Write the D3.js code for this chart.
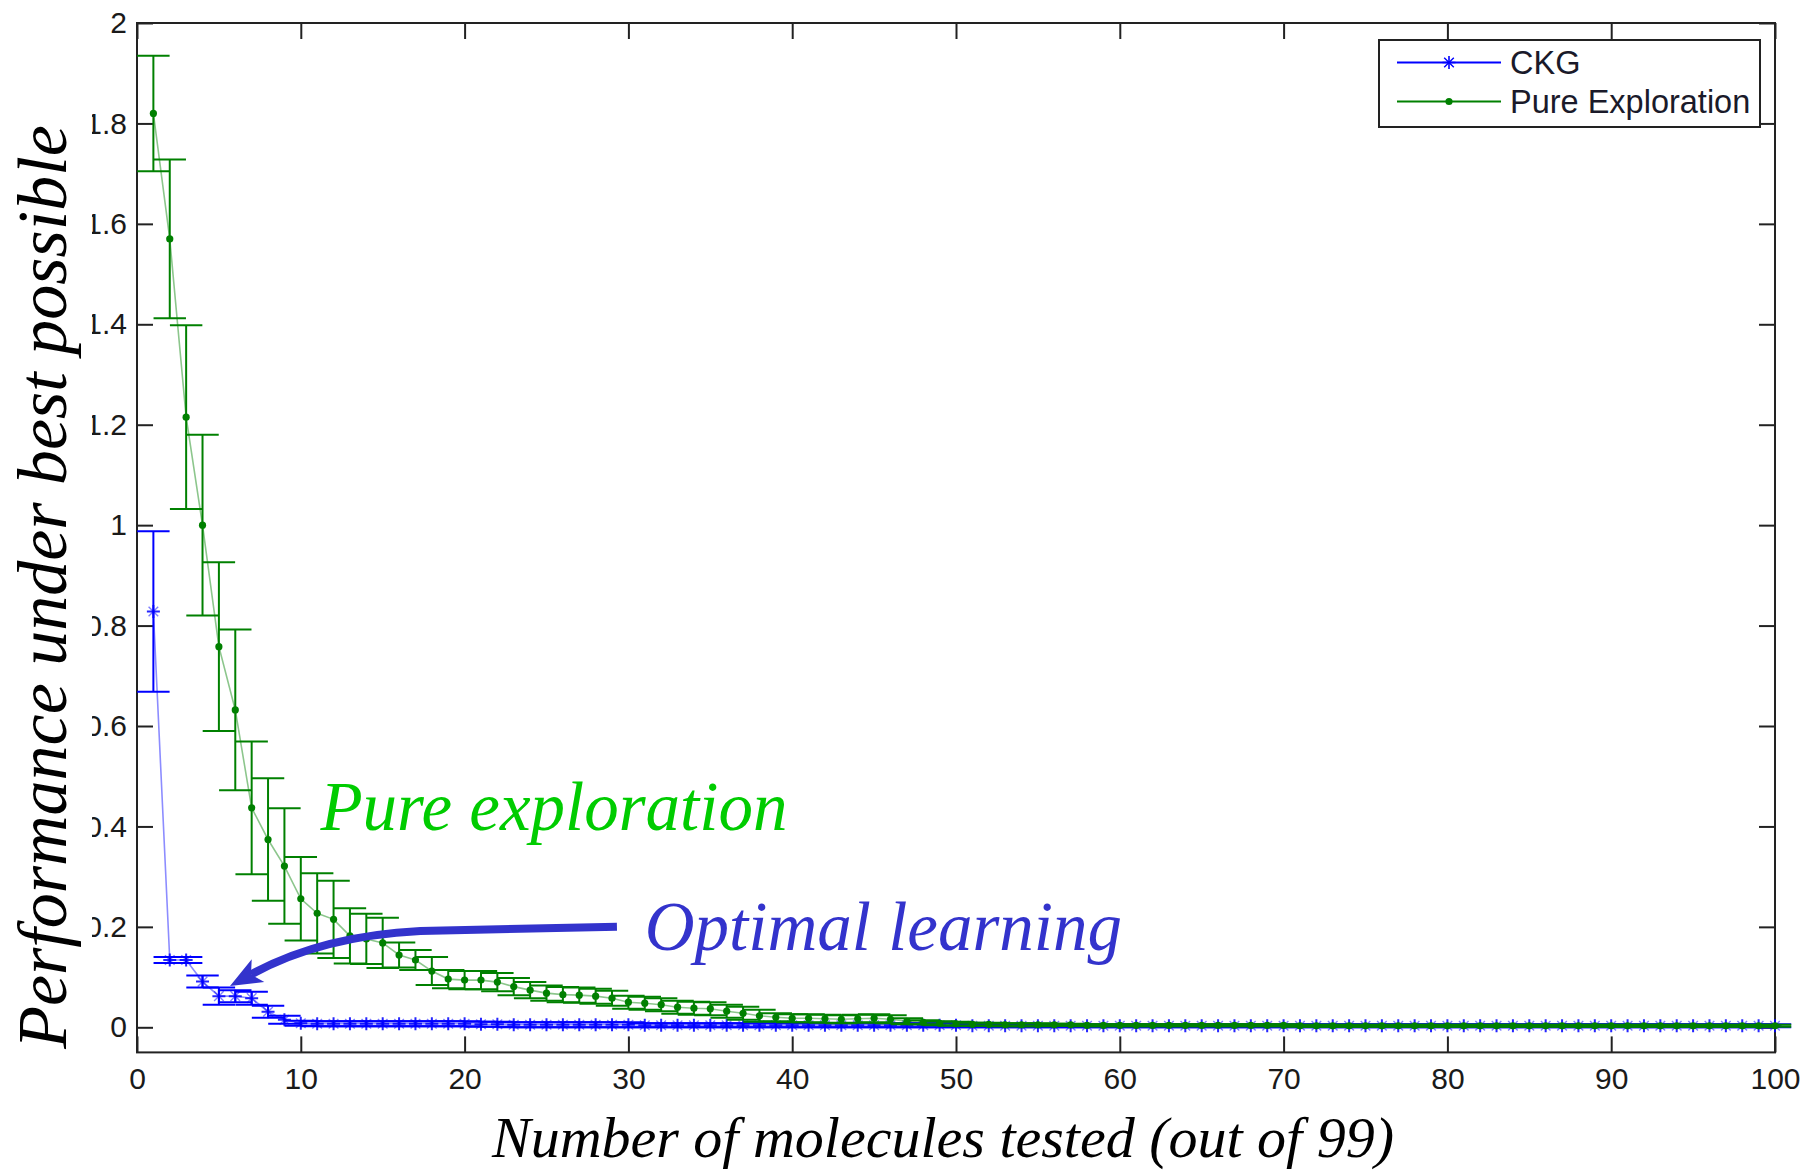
<!DOCTYPE html>
<html><head><meta charset="utf-8">
<script src="https://cdn.jsdelivr.net/npm/d3@7"></script>
<style>body{margin:0;background:#fff}</style>
</head><body>
<svg id="c" width="1808" height="1171"></svg>
<script>
// ---------- data ----------
const molecules = d3.range(1, 101);
const seriesNames = ["CKG", "Pure Exploration"];
const ckgMean = [
 0.828,0.134,0.134,0.091,0.062,0.062,0.058,0.031,0.015,0.008,
 0.007,0.007,0.007,0.007,0.007,0.007,0.007,0.007,0.007,0.007,
 0.006,0.006,0.005,0.005,0.005,0.005,0.005,0.005,0.005,0.005,
 0.004,0.004,0.004,0.004,0.004,0.004,0.004,0.004,0.004,0.004,
 0.004,0.004,0.004,0.004,0.004,0.004,0.004,0.004,0.004,0.004,
 0.003,0.003,0.003,0.003,0.003,0.003,0.003,0.003,0.003,0.003,
 0.003,0.003,0.003,0.003,0.003,0.003,0.003,0.003,0.003,0.003,
 0.003,0.003,0.003,0.003,0.003,0.003,0.003,0.003,0.003,0.003,
 0.003,0.003,0.003,0.003,0.003,0.003,0.003,0.003,0.003,0.003,
 0.003,0.003,0.003,0.003,0.003,0.003,0.003,0.003,0.003,0.003];
const ckgErr = [
 0.160,0.006,0.006,0.012,0.017,0.012,0.013,0.012,0.008,0.005,
 0.005,0.005,0.005,0.005,0.005,0.005,0.005,0.005,0.005,0.005,
 0.005,0.005,0.005,0.005,0.005,0.005,0.005,0.005,0.005,0.005,
 0.004,0.004,0.004,0.004,0.004,0.004,0.004,0.004,0.004,0.004,
 0.004,0.004,0.004,0.004,0.004,0.004,0.004,0.004,0.004,0.004,
 0.003,0.003,0.003,0.003,0.003,0.003,0.003,0.003,0.003,0.003,
 0.003,0.003,0.003,0.003,0.003,0.003,0.003,0.003,0.003,0.003,
 0.003,0.003,0.003,0.003,0.003,0.003,0.003,0.003,0.003,0.003,
 0.003,0.003,0.003,0.003,0.003,0.003,0.003,0.003,0.003,0.003,
 0.003,0.003,0.003,0.003,0.003,0.003,0.003,0.003,0.003,0.003];
const pureMean = [
 1.820,1.570,1.215,1.000,0.758,0.632,0.437,0.374,0.321,0.256,
 0.227,0.215,0.182,0.176,0.168,0.144,0.134,0.112,0.096,0.094,
 0.094,0.090,0.081,0.074,0.068,0.065,0.064,0.062,0.058,0.050,
 0.048,0.045,0.040,0.038,0.037,0.032,0.028,0.023,0.020,0.018,
 0.018,0.017,0.016,0.017,0.018,0.016,0.012,0.010,0.008,0.007,
 0.006,0.006,0.005,0.005,0.005,0.005,0.005,0.004,0.004,0.004,
 0.004,0.004,0.004,0.004,0.004,0.004,0.004,0.004,0.004,0.004,
 0.003,0.003,0.003,0.003,0.003,0.003,0.003,0.003,0.003,0.003,
 0.003,0.003,0.003,0.003,0.003,0.003,0.003,0.003,0.003,0.003,
 0.003,0.003,0.003,0.003,0.003,0.003,0.003,0.003,0.003,0.003];
const pureErr = [
 0.115,0.158,0.183,0.180,0.168,0.160,0.132,0.122,0.115,0.083,
 0.080,0.077,0.055,0.050,0.050,0.025,0.020,0.028,0.018,0.018,
 0.018,0.018,0.017,0.016,0.015,0.015,0.015,0.015,0.015,0.013,
 0.013,0.013,0.013,0.013,0.013,0.013,0.013,0.012,0.008,0.008,
 0.008,0.008,0.008,0.008,0.008,0.008,0.006,0.004,0.004,0.004,
 0.003,0.003,0.003,0.003,0.003,0.002,0.002,0.002,0.002,0.002,
 0.002,0.002,0.002,0.002,0.002,0.002,0.002,0.002,0.002,0.002,
 0.002,0.002,0.002,0.002,0.002,0.002,0.002,0.002,0.002,0.002,
 0.002,0.002,0.002,0.002,0.002,0.002,0.002,0.002,0.002,0.002,
 0.002,0.002,0.002,0.002,0.002,0.002,0.002,0.002,0.002,0.002];
const xTicks = [0,10,20,30,40,50,60,70,80,90,100];
const yTicks = [0,0.2,0.4,0.6,0.8,1,1.2,1.4,1.6,1.8,2];
const yTickLabels = ["0","0.2","0.4","0.6","0.8","1","1.2","1.4","1.6","1.8","2"];
const xTitle = "Number of molecules tested (out of 99)";
const yTitle = "Performance under best possible";
const notePure = {text: "Pure exploration", x: 11.2, y: 0.392};
const noteOpt = {text: "Optimal learning", x: 31.0, y: 0.154};
const arrowPts = [[29.3, 0.200], [17.3, 0.192], [11.2, 0.182], [5.68, 0.082]];

// ---------- layout ----------
const svg = d3.select("#c");
const L = 137, R = 1775, T = 23, B = 1052.4;
const x = d3.scaleLinear().domain([0, 100]).range([L, R]);
const y = d3.scaleLinear().domain([-0.05, 2]).range([B, T]);
const sans = "'Liberation Sans', Arial, sans-serif";
const serif = "'Times New Roman', 'Liberation Serif', serif";
const BLUE = "#0000ff", GREEN = "#008000";
const capHalf = 0.99;

// axes
function styleAxis(g) {
  g.select(".domain").remove();
  g.selectAll(".tick line").attr("stroke", "#222").attr("stroke-width", 2);
  g.selectAll(".tick text").attr("fill", "#1a1a1a").style("font-family", sans).style("font-size", "30px");
}
svg.append("g").attr("transform", `translate(0,${B})`)
  .call(d3.axisBottom(x).tickValues(xTicks).tickSize(-16).tickPadding(15).tickFormat(d3.format("d")))
  .call(styleAxis);
svg.append("g").attr("transform", `translate(${L},0)`)
  .call(d3.axisLeft(y).tickValues(yTicks).tickSize(-16).tickPadding(10).tickFormat((d, i) => yTickLabels[i]))
  .call(styleAxis);
svg.append("g").attr("transform", `translate(0,${T})`)
  .call(d3.axisTop(x).tickValues(xTicks).tickSize(-16).tickFormat(""))
  .call(styleAxis);
svg.append("g").attr("transform", `translate(${R},0)`)
  .call(d3.axisRight(y).tickValues(yTicks).tickSize(-16).tickFormat(""))
  .call(styleAxis);
svg.append("rect").attr("x", L).attr("y", T).attr("width", R - L).attr("height", B - T)
  .attr("fill", "none").attr("stroke", "#222").attr("stroke-width", 2);

// series
function drawSeries(means, errs, color, marker) {
  const pts = molecules.map((m, i) => ({m, v: means[i], e: errs[i]}));
  const g = svg.append("g");
  const eb = g.append("g").attr("stroke", color).attr("stroke-width", 2).attr("fill", "none");
  pts.forEach(p => {
    eb.append("line").attr("x1", x(p.m)).attr("x2", x(p.m)).attr("y1", y(p.v - p.e)).attr("y2", y(p.v + p.e));
    eb.append("line").attr("x1", x(p.m - capHalf)).attr("x2", x(p.m + capHalf)).attr("y1", y(p.v + p.e)).attr("y2", y(p.v + p.e));
    eb.append("line").attr("x1", x(p.m - capHalf)).attr("x2", x(p.m + capHalf)).attr("y1", y(p.v - p.e)).attr("y2", y(p.v - p.e));
  });
  g.append("path").datum(pts)
    .attr("d", d3.line().x(p => x(p.m)).y(p => y(p.v)))
    .attr("fill", "none").attr("stroke", color).attr("stroke-width", 1.6).attr("stroke-opacity", 0.45);
  const mk = g.append("g");
  pts.forEach(p => marker(mk, x(p.m), y(p.v), false));
}
function star(g, cx, cy, strong) {
  const s = 6.5, d = 4.8;
  g.append("path")
    .attr("d", `M${cx-s},${cy}H${cx+s}M${cx},${cy-s}V${cy+s}`)
    .attr("stroke", BLUE).attr("stroke-width", strong ? 1.6 : 2).attr("stroke-opacity", strong ? 1 : 0.85).attr("fill", "none");
  g.append("path")
    .attr("d", `M${cx-d},${cy-d}L${cx+d},${cy+d}M${cx-d},${cy+d}L${cx+d},${cy-d}`)
    .attr("stroke", BLUE).attr("stroke-width", 1.4).attr("stroke-opacity", strong ? 1 : 0.5).attr("fill", "none");
}
function dot(g, cx, cy) {
  g.append("circle").attr("cx", cx).attr("cy", cy).attr("r", 3.6).attr("fill", GREEN);
}
drawSeries(ckgMean, ckgErr, BLUE, star);
drawSeries(pureMean, pureErr, GREEN, dot);

// legend
const lg = svg.append("g");
lg.append("rect").attr("x", 1379).attr("y", 40).attr("width", 381).attr("height", 87)
  .attr("fill", "#fff").attr("stroke", "#222").attr("stroke-width", 2);
const legendRows = [
  {name: seriesNames[0], color: BLUE, cy: 62.5, mark: (g, cx, cy) => star(g, cx, cy, true)},
  {name: seriesNames[1], color: GREEN, cy: 101.5, mark: dot}
];
legendRows.forEach(r => {
  lg.append("line").attr("x1", 1397).attr("x2", 1501).attr("y1", r.cy).attr("y2", r.cy)
    .attr("stroke", r.color).attr("stroke-width", 2);
  r.mark(lg, 1449, r.cy);
  lg.append("text").attr("x", 1510).attr("y", r.cy).attr("dy", "0.36em")
    .attr("fill", "#1a1a2a").style("font-family", sans).style("font-size", "32.5px").text(r.name);
});

// mask over leading digits, then y title
svg.append("rect").attr("x", 0).attr("y", 100).attr("width", 92).attr("height", 960).attr("fill", "#fff");
svg.append("text").attr("transform", `translate(66,587) rotate(-90)`).attr("text-anchor", "middle")
  .style("font-family", serif).style("font-style", "italic").style("font-size", "70px").attr("fill", "#000").text(yTitle);
svg.append("text").attr("x", 943).attr("y", 1157).attr("text-anchor", "middle")
  .style("font-family", serif).style("font-style", "italic").style("font-size", "58px").attr("fill", "#000").text(xTitle);

// annotations
svg.append("text").attr("x", x(notePure.x)).attr("y", y(notePure.y))
  .style("font-family", serif).style("font-style", "italic").style("font-size", "69px").attr("fill", "#00cc00").text(notePure.text);
svg.append("text").attr("x", x(noteOpt.x)).attr("y", y(noteOpt.y))
  .style("font-family", serif).style("font-style", "italic").style("font-size", "69px").attr("fill", "#3333cc").text(noteOpt.text);

// arrow
const ap = arrowPts.map(([a, b]) => [x(a), y(b)]);
const tip = ap[3];
const ang = Math.atan2(tip[1] - ap[2][1], tip[0] - ap[2][0]);
const headLen = 32, headW = 13;
const ux = Math.cos(ang), uy = Math.sin(ang), px = -uy, py = ux;
const base = [tip[0] - ux * headLen, tip[1] - uy * headLen];
const notch = [tip[0] - ux * headLen * 0.75, tip[1] - uy * headLen * 0.75];
svg.append("path")
  .attr("d", `M${ap[0][0]},${ap[0][1]}L${ap[1][0]},${ap[1][1]}Q${ap[2][0]},${ap[2][1]} ${notch[0]},${notch[1]}`)
  .attr("fill", "none").attr("stroke", "#3333cc").attr("stroke-width", 8);
svg.append("path")
  .attr("d", `M${tip[0]},${tip[1]}L${base[0] + px * headW},${base[1] + py * headW}L${notch[0]},${notch[1]}L${base[0] - px * headW},${base[1] - py * headW}Z`)
  .attr("fill", "#3333cc");
</script>
</body></html>
